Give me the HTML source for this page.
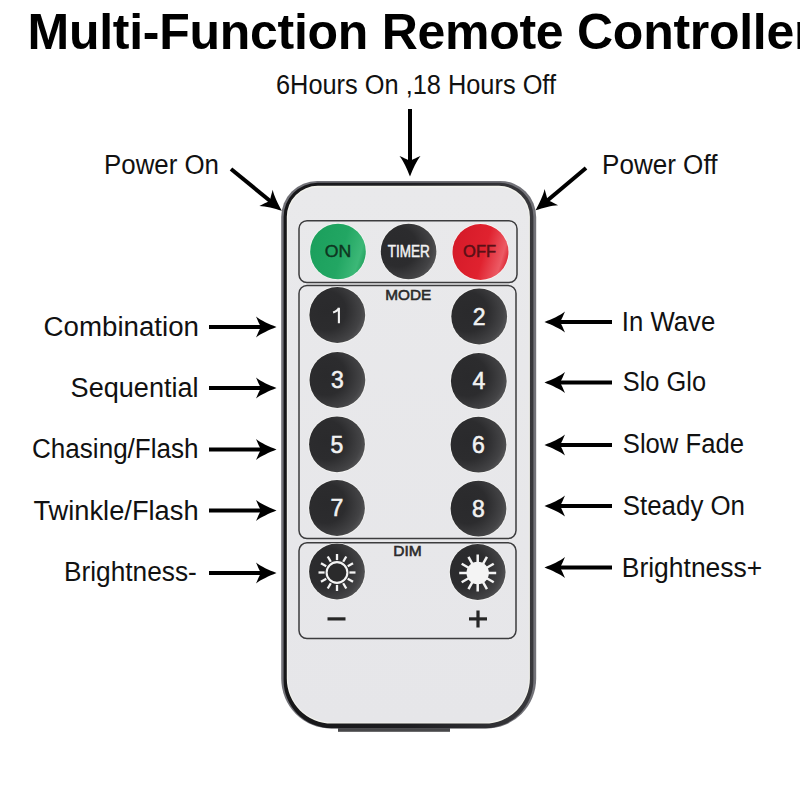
<!DOCTYPE html>
<html><head><meta charset="utf-8">
<style>
html,body{margin:0;padding:0;background:#fff;width:800px;height:800px;overflow:hidden}
svg{display:block}
text{font-family:"Liberation Sans",sans-serif}
</style></head>
<body>
<svg width="800" height="800" viewBox="0 0 800 800">
<defs>
  <linearGradient id="bord" x1="0" y1="0" x2="1" y2="0">
    <stop offset="0" stop-color="#161618"/>
    <stop offset="0.5" stop-color="#1e1e21"/>
    <stop offset="1" stop-color="#38383c"/>
  </linearGradient>
  <linearGradient id="face" x1="0" y1="0" x2="0" y2="1">
    <stop offset="0" stop-color="#e9e9eb"/>
    <stop offset="1" stop-color="#e6e6e9"/>
  </linearGradient>
  <radialGradient id="btn" cx="0.3" cy="0.42" r="0.78" fx="0.3" fy="0.42">
    <stop offset="0" stop-color="#2a2a2c"/>
    <stop offset="0.45" stop-color="#2c2c2e"/>
    <stop offset="0.8" stop-color="#434345"/>
    <stop offset="0.95" stop-color="#58585a"/>
    <stop offset="1" stop-color="#5a5a5c"/>
  </radialGradient>
  <linearGradient id="green" x1="0" y1="0.2" x2="1" y2="0.5">
    <stop offset="0" stop-color="#1b9f5c"/>
    <stop offset="0.6" stop-color="#22a663"/>
    <stop offset="0.92" stop-color="#3cb877"/>
    <stop offset="1" stop-color="#2aa866"/>
  </linearGradient>
  <linearGradient id="red" x1="0" y1="0.2" x2="1" y2="0.5">
    <stop offset="0" stop-color="#d41a28"/>
    <stop offset="0.6" stop-color="#e0222f"/>
    <stop offset="0.92" stop-color="#ec5a64"/>
    <stop offset="1" stop-color="#e03440"/>
  </linearGradient>
  <path id="ah" d="M0.5,0 C-7,-3 -15,-6.5 -20,-10.5 C-18,-6 -17,-3.5 -16,-1.8 L-16,1.8 C-17,3.5 -18,6 -20,10.5 C-15,6.5 -7,3 0.5,0 Z"/>
</defs>

<!-- Title -->
<text x="27.5" y="48.9" font-size="50" font-weight="bold" fill="#000" textLength="786" lengthAdjust="spacing">Multi-Function Remote Controller</text>

<!-- top label -->
<text x="276.0" y="93.7" font-size="27" fill="#111" textLength="280.0" lengthAdjust="spacingAndGlyphs">6Hours On ,18 Hours Off</text>
<text x="104.0" y="174.0" font-size="27" fill="#111" textLength="115.0" lengthAdjust="spacingAndGlyphs">Power On</text>
<text x="602.0" y="174.0" font-size="27" fill="#111" textLength="115.4" lengthAdjust="spacingAndGlyphs">Power Off</text>

<!-- left labels -->
<text x="43.6" y="336.0" font-size="27" fill="#111" textLength="155.4" lengthAdjust="spacingAndGlyphs">Combination</text>
<text x="70.6" y="396.6" font-size="27" fill="#111" textLength="128.0" lengthAdjust="spacingAndGlyphs">Sequential</text>
<text x="32.0" y="458.4" font-size="27" fill="#111" textLength="166.6" lengthAdjust="spacingAndGlyphs">Chasing/Flash</text>
<text x="33.4" y="519.7" font-size="27" fill="#111" textLength="165.2" lengthAdjust="spacingAndGlyphs">Twinkle/Flash</text>
<text x="64.0" y="581.4" font-size="27" fill="#111" textLength="132.8" lengthAdjust="spacingAndGlyphs">Brightness-</text>

<!-- right labels -->
<text x="621.8" y="330.6" font-size="27" fill="#111" textLength="93.4" lengthAdjust="spacingAndGlyphs">In Wave</text>
<text x="622.8" y="391.0" font-size="27" fill="#111" textLength="83.2" lengthAdjust="spacingAndGlyphs">Slo Glo</text>
<text x="622.8" y="453.0" font-size="27" fill="#111" textLength="121.2" lengthAdjust="spacingAndGlyphs">Slow Fade</text>
<text x="622.8" y="514.6" font-size="27" fill="#111" textLength="122.2" lengthAdjust="spacingAndGlyphs">Steady On</text>
<text x="621.8" y="576.6" font-size="27" fill="#111" textLength="140.4" lengthAdjust="spacingAndGlyphs">Brightness+</text>

<!-- arrows -->
<g fill="#000" stroke="#000">
  <!-- left arrows pointing right -->
  <g stroke-width="4">
    <line x1="209" y1="327" x2="264" y2="327"/>
    <line x1="209" y1="388" x2="264" y2="388"/>
    <line x1="209" y1="449.5" x2="264" y2="449.5"/>
    <line x1="209" y1="510.5" x2="264" y2="510.5"/>
    <line x1="209" y1="573" x2="264" y2="573"/>
    <line x1="612" y1="322" x2="557" y2="322"/>
    <line x1="612" y1="382.5" x2="557" y2="382.5"/>
    <line x1="612" y1="445" x2="557" y2="445"/>
    <line x1="612" y1="506" x2="557" y2="506"/>
    <line x1="612" y1="567.5" x2="557" y2="567.5"/>
    <line x1="410" y1="109" x2="410" y2="164"/>
    <line x1="231" y1="169" x2="272" y2="202.5"/>
    <line x1="586" y1="168" x2="545" y2="202.5"/>
  </g>
  <g stroke="none">
    <use href="#ah" transform="translate(276,327)"/>
    <use href="#ah" transform="translate(276,388)"/>
    <use href="#ah" transform="translate(276,449.5)"/>
    <use href="#ah" transform="translate(276,510.5)"/>
    <use href="#ah" transform="translate(276,573)"/>
    <use href="#ah" transform="translate(545,322) rotate(180)"/>
    <use href="#ah" transform="translate(545,382.5) rotate(180)"/>
    <use href="#ah" transform="translate(545,445) rotate(180)"/>
    <use href="#ah" transform="translate(545,506) rotate(180)"/>
    <use href="#ah" transform="translate(545,567.5) rotate(180)"/>
    <use href="#ah" transform="translate(410,176) rotate(90)"/>
    <use href="#ah" transform="translate(281.5,210.5) rotate(39.4)"/>
    <use href="#ah" transform="translate(536,210) rotate(140)"/>
  </g>
</g>

<!-- Remote body -->
<rect x="338" y="726" width="112" height="5.8" fill="#48484a"/>
<path d="M317.2,181.0 H500.20000000000005 A36,36 0 0 1 536.2,217.0 V678.6 A50,50 0 0 1 486.20000000000005,728.6 H331.2 A50,50 0 0 1 281.2,678.6 V217.0 A36,36 0 0 1 317.2,181.0 Z" fill="#727278"/>
<path d="M317.6,182.8 H499.4 A34,34 0 0 1 533.4,216.8 V680.2 A48,48 0 0 1 485.4,728.2 H331.6 A48,48 0 0 1 283.6,680.2 V216.8 A34,34 0 0 1 317.6,182.8 Z" fill="url(#bord)"/>
<path d="M317.8,185.8 H498.9 A31,31 0 0 1 529.9,216.8 V678.6 A45,45 0 0 1 484.9,723.6 H331.8 A45,45 0 0 1 286.8,678.6 V216.8 A31,31 0 0 1 317.8,185.8 Z" fill="#f2f2ec"/>
<path d="M317.8,187.4 H498.9 A30,30 0 0 1 528.9,217.4 V678.4 A44,44 0 0 1 484.9,722.4 H331.8 A44,44 0 0 1 287.8,678.4 V217.4 A30,30 0 0 1 317.8,187.4 Z" fill="url(#face)"/>
<g fill="none" stroke="#3c3c3e" stroke-width="1.5">
  <rect x="299" y="220.7" width="218" height="61.8" rx="8"/>
  <rect x="299" y="285.5" width="217" height="253" rx="8"/>
  <rect x="299" y="542.8" width="217" height="95.8" rx="8"/>
</g>
<text x="408.2" y="300" font-size="14.5" fill="#2a2a2a" stroke="#2a2a2a" stroke-width="0.55" text-anchor="middle" textLength="46" lengthAdjust="spacingAndGlyphs">MODE</text>
<text x="407.5" y="556.3" font-size="14.5" fill="#2a2a2a" stroke="#2a2a2a" stroke-width="0.55" text-anchor="middle" textLength="28.5" lengthAdjust="spacingAndGlyphs">DIM</text>
<circle cx="338" cy="251.5" r="28.5" fill="#f6f6f4"/>
<circle cx="338" cy="251.5" r="27.8" fill="url(#green)"/>
<circle cx="408.6" cy="251.5" r="28.5" fill="#f6f6f4"/>
<circle cx="408.6" cy="251.5" r="27.8" fill="url(#btn)"/>
<circle cx="480.5" cy="252" r="28.7" fill="#f6f6f4"/>
<circle cx="480.5" cy="252" r="28" fill="url(#red)"/>
<text x="337.9" y="256.6" font-size="16.5" fill="#0e3520" stroke="#0e3520" stroke-width="0.4" text-anchor="middle" textLength="26.5" lengthAdjust="spacingAndGlyphs">ON</text>
<text x="408.7" y="257.2" font-size="16" fill="#f2f2f2" stroke="#f2f2f2" stroke-width="0.5" text-anchor="middle" textLength="42" lengthAdjust="spacingAndGlyphs">TIMER</text>
<text x="479.6" y="257.2" font-size="16" fill="#5a1016" stroke="#5a1016" stroke-width="0.5" text-anchor="middle" textLength="33" lengthAdjust="spacingAndGlyphs">OFF</text>
<circle cx="337.3" cy="315" r="28.6" fill="#f6f6f4"/><circle cx="337.3" cy="315" r="27.9" fill="url(#btn)"/>
<path d="M338.90000000000003,307.8 V323.2 M338.90000000000003,307.8 C337.90000000000003,310.4 335.7,311.6 333.1,312.4" stroke="#f2f2f2" stroke-width="2.1" fill="none"/>
<circle cx="479.2" cy="316.5" r="28.6" fill="#f6f6f4"/><circle cx="479.2" cy="316.5" r="27.9" fill="url(#btn)"/>
<text x="479.2" y="324.7" font-size="23" fill="#f2f2f2" stroke="#f2f2f2" stroke-width="0.55" text-anchor="middle">2</text>
<circle cx="337.4" cy="380" r="28.6" fill="#f6f6f4"/><circle cx="337.4" cy="380" r="27.9" fill="url(#btn)"/>
<text x="337.4" y="388.2" font-size="23" fill="#f2f2f2" stroke="#f2f2f2" stroke-width="0.55" text-anchor="middle">3</text>
<circle cx="478.8" cy="381" r="28.6" fill="#f6f6f4"/><circle cx="478.8" cy="381" r="27.9" fill="url(#btn)"/>
<text x="478.8" y="389.2" font-size="23" fill="#f2f2f2" stroke="#f2f2f2" stroke-width="0.55" text-anchor="middle">4</text>
<circle cx="337" cy="444.3" r="28.6" fill="#f6f6f4"/><circle cx="337" cy="444.3" r="27.9" fill="url(#btn)"/>
<text x="337" y="452.5" font-size="23" fill="#f2f2f2" stroke="#f2f2f2" stroke-width="0.55" text-anchor="middle">5</text>
<circle cx="478.5" cy="444.7" r="28.6" fill="#f6f6f4"/><circle cx="478.5" cy="444.7" r="27.9" fill="url(#btn)"/>
<text x="478.5" y="452.9" font-size="23" fill="#f2f2f2" stroke="#f2f2f2" stroke-width="0.55" text-anchor="middle">6</text>
<circle cx="337" cy="508" r="28.6" fill="#f6f6f4"/><circle cx="337" cy="508" r="27.9" fill="url(#btn)"/>
<text x="337" y="516.2" font-size="23" fill="#f2f2f2" stroke="#f2f2f2" stroke-width="0.55" text-anchor="middle">7</text>
<circle cx="478.5" cy="508.6" r="28.6" fill="#f6f6f4"/><circle cx="478.5" cy="508.6" r="27.9" fill="url(#btn)"/>
<text x="478.5" y="516.8000000000001" font-size="23" fill="#f2f2f2" stroke="#f2f2f2" stroke-width="0.55" text-anchor="middle">8</text>
<circle cx="337" cy="571.5" r="28.6" fill="#f6f6f4"/><circle cx="337" cy="571.5" r="27.9" fill="url(#btn)"/>
<g transform="translate(337,572.5)" stroke="#f4f4f4" stroke-width="2.3">
  <circle r="10.4" fill="#2a2a2b" stroke-width="2.1"/>
  <line x1="0" y1="-12.4" x2="0" y2="-18.5" transform="rotate(0)"/>
  <line x1="0" y1="-12.4" x2="0" y2="-18.5" transform="rotate(30)"/>
  <line x1="0" y1="-12.4" x2="0" y2="-18.5" transform="rotate(60)"/>
  <line x1="0" y1="-12.4" x2="0" y2="-18.5" transform="rotate(90)"/>
  <line x1="0" y1="-12.4" x2="0" y2="-18.5" transform="rotate(120)"/>
  <line x1="0" y1="-12.4" x2="0" y2="-18.5" transform="rotate(150)"/>
  <line x1="0" y1="-12.4" x2="0" y2="-18.5" transform="rotate(180)"/>
  <line x1="0" y1="-12.4" x2="0" y2="-18.5" transform="rotate(210)"/>
  <line x1="0" y1="-12.4" x2="0" y2="-18.5" transform="rotate(240)"/>
  <line x1="0" y1="-12.4" x2="0" y2="-18.5" transform="rotate(270)"/>
  <line x1="0" y1="-12.4" x2="0" y2="-18.5" transform="rotate(300)"/>
  <line x1="0" y1="-12.4" x2="0" y2="-18.5" transform="rotate(330)"/>
</g>
<circle cx="477.7" cy="572" r="28.6" fill="#f6f6f4"/><circle cx="477.7" cy="572" r="27.9" fill="url(#btn)"/>
<g transform="translate(477.7,573)" stroke="#f4f4f4" stroke-width="2.5">
  <circle r="11.2" fill="#f4f4f4" stroke="none"/>
  <line x1="0" y1="-9.5" x2="0" y2="-18.5" transform="rotate(0)"/>
  <line x1="0" y1="-9.5" x2="0" y2="-18.5" transform="rotate(30)"/>
  <line x1="0" y1="-9.5" x2="0" y2="-18.5" transform="rotate(60)"/>
  <line x1="0" y1="-9.5" x2="0" y2="-18.5" transform="rotate(90)"/>
  <line x1="0" y1="-9.5" x2="0" y2="-18.5" transform="rotate(120)"/>
  <line x1="0" y1="-9.5" x2="0" y2="-18.5" transform="rotate(150)"/>
  <line x1="0" y1="-9.5" x2="0" y2="-18.5" transform="rotate(180)"/>
  <line x1="0" y1="-9.5" x2="0" y2="-18.5" transform="rotate(210)"/>
  <line x1="0" y1="-9.5" x2="0" y2="-18.5" transform="rotate(240)"/>
  <line x1="0" y1="-9.5" x2="0" y2="-18.5" transform="rotate(270)"/>
  <line x1="0" y1="-9.5" x2="0" y2="-18.5" transform="rotate(300)"/>
  <line x1="0" y1="-9.5" x2="0" y2="-18.5" transform="rotate(330)"/>
</g>
<rect x="327.5" y="617.3" width="18" height="3.2" fill="#262626"/>
<rect x="469" y="617.3" width="18" height="3.2" fill="#262626"/>
<rect x="476.4" y="610.5" width="3.2" height="17" fill="#262626"/>
</svg>
</body></html>
